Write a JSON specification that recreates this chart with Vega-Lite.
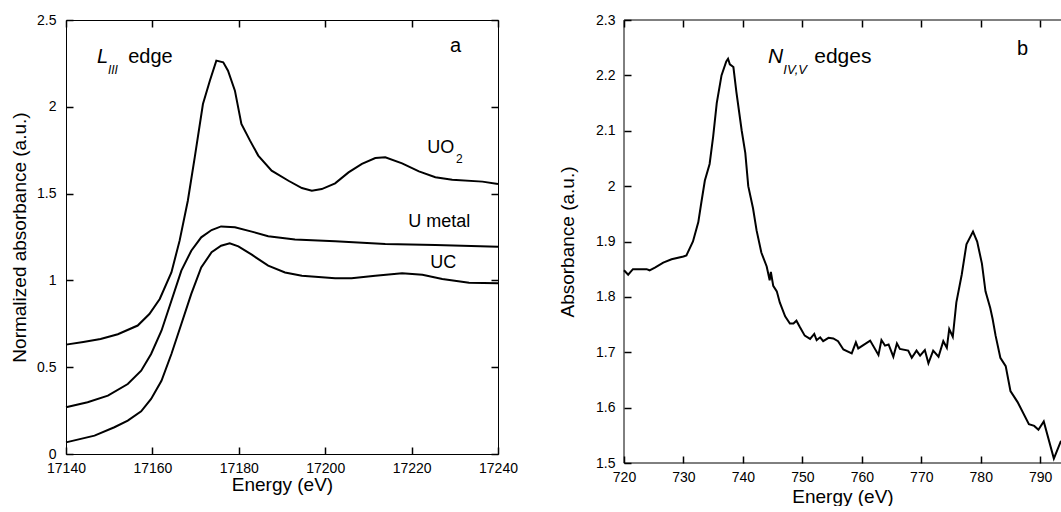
{
  "$schema": "https://vega.github.io/schema/vega-lite/v6.json",
  "padding": {"left": 10, "top": 12, "right": 0, "bottom": 0},
  "background": "white",
  "spacing": 40,
  "config": {
    "view": {"stroke": null},
    "font": "Liberation Sans",
    "axis": {
      "grid": false,
      "domain": false,
      "offset": -7,
      "ticks": true,
      "tickColor": "#000000",
      "tickOpacity": 1,
      "tickWidth": 1.5,
      "tickSize": 7,
      "labelFlush": false,
      "labelOverlap": false,
      "labelFont": "Liberation Sans",
      "labelFontSize": 14,
      "labelColor": "black",
      "titleFont": "Liberation Sans",
      "titleFontSize": 19,
      "titleFontWeight": "normal",
      "titleColor": "black"
    },
    "text": {"font": "Liberation Sans", "color": "black", "align": "left", "baseline": "alphabetic"}
  },
  "datasets": {
    "l3": [
      {"sample": "UO2", "E": 17140, "A": 0.63},
      {"sample": "UO2", "E": 17144, "A": 0.645},
      {"sample": "UO2", "E": 17148, "A": 0.662},
      {"sample": "UO2", "E": 17152, "A": 0.69},
      {"sample": "UO2", "E": 17156.6, "A": 0.74},
      {"sample": "UO2", "E": 17159.3, "A": 0.806},
      {"sample": "UO2", "E": 17161.7, "A": 0.893},
      {"sample": "UO2", "E": 17164.4, "A": 1.046},
      {"sample": "UO2", "E": 17166.3, "A": 1.229},
      {"sample": "UO2", "E": 17168.2, "A": 1.459},
      {"sample": "UO2", "E": 17169.8, "A": 1.709},
      {"sample": "UO2", "E": 17171.7, "A": 2.016},
      {"sample": "UO2", "E": 17173.3, "A": 2.15},
      {"sample": "UO2", "E": 17174.8, "A": 2.266},
      {"sample": "UO2", "E": 17176.4, "A": 2.256},
      {"sample": "UO2", "E": 17177.5, "A": 2.208},
      {"sample": "UO2", "E": 17179.1, "A": 2.093},
      {"sample": "UO2", "E": 17180.6, "A": 1.901},
      {"sample": "UO2", "E": 17182.6, "A": 1.805},
      {"sample": "UO2", "E": 17184.5, "A": 1.719},
      {"sample": "UO2", "E": 17187.6, "A": 1.632},
      {"sample": "UO2", "E": 17191.5, "A": 1.574},
      {"sample": "UO2", "E": 17194.6, "A": 1.532},
      {"sample": "UO2", "E": 17196.9, "A": 1.517},
      {"sample": "UO2", "E": 17199.2, "A": 1.526},
      {"sample": "UO2", "E": 17202.3, "A": 1.559},
      {"sample": "UO2", "E": 17205.4, "A": 1.622},
      {"sample": "UO2", "E": 17208.5, "A": 1.671},
      {"sample": "UO2", "E": 17211.6, "A": 1.705},
      {"sample": "UO2", "E": 17213.9, "A": 1.709},
      {"sample": "UO2", "E": 17217.8, "A": 1.674},
      {"sample": "UO2", "E": 17221.7, "A": 1.628},
      {"sample": "UO2", "E": 17225.5, "A": 1.594},
      {"sample": "UO2", "E": 17229.4, "A": 1.58},
      {"sample": "UO2", "E": 17236.4, "A": 1.569},
      {"sample": "UO2", "E": 17240, "A": 1.555},
      {"sample": "U metal", "E": 17140, "A": 0.269},
      {"sample": "U metal", "E": 17145, "A": 0.298},
      {"sample": "U metal", "E": 17149.7, "A": 0.336},
      {"sample": "U metal", "E": 17154.3, "A": 0.403},
      {"sample": "U metal", "E": 17157.4, "A": 0.48},
      {"sample": "U metal", "E": 17159.7, "A": 0.576},
      {"sample": "U metal", "E": 17162.1, "A": 0.71},
      {"sample": "U metal", "E": 17164.4, "A": 0.883},
      {"sample": "U metal", "E": 17166.7, "A": 1.056},
      {"sample": "U metal", "E": 17169, "A": 1.171},
      {"sample": "U metal", "E": 17171.3, "A": 1.248},
      {"sample": "U metal", "E": 17173.7, "A": 1.29},
      {"sample": "U metal", "E": 17175.9, "A": 1.311},
      {"sample": "U metal", "E": 17179.1, "A": 1.306},
      {"sample": "U metal", "E": 17183, "A": 1.281},
      {"sample": "U metal", "E": 17186.8, "A": 1.254},
      {"sample": "U metal", "E": 17193, "A": 1.235},
      {"sample": "U metal", "E": 17202.3, "A": 1.225},
      {"sample": "U metal", "E": 17213.9, "A": 1.21},
      {"sample": "U metal", "E": 17225.5, "A": 1.204},
      {"sample": "U metal", "E": 17240, "A": 1.194},
      {"sample": "UC", "E": 17140, "A": 0.067},
      {"sample": "UC", "E": 17146.6, "A": 0.106},
      {"sample": "UC", "E": 17151.2, "A": 0.154},
      {"sample": "UC", "E": 17154.3, "A": 0.192},
      {"sample": "UC", "E": 17157.4, "A": 0.246},
      {"sample": "UC", "E": 17159.7, "A": 0.317},
      {"sample": "UC", "E": 17162.1, "A": 0.422},
      {"sample": "UC", "E": 17164.4, "A": 0.576},
      {"sample": "UC", "E": 17166.7, "A": 0.749},
      {"sample": "UC", "E": 17169, "A": 0.922},
      {"sample": "UC", "E": 17171.3, "A": 1.075},
      {"sample": "UC", "E": 17173.7, "A": 1.162},
      {"sample": "UC", "E": 17175.9, "A": 1.2},
      {"sample": "UC", "E": 17177.9, "A": 1.214},
      {"sample": "UC", "E": 17179.9, "A": 1.196},
      {"sample": "UC", "E": 17183, "A": 1.148},
      {"sample": "UC", "E": 17186.8, "A": 1.085},
      {"sample": "UC", "E": 17190.7, "A": 1.046},
      {"sample": "UC", "E": 17194.6, "A": 1.027},
      {"sample": "UC", "E": 17202.3, "A": 1.012},
      {"sample": "UC", "E": 17206.1, "A": 1.012},
      {"sample": "UC", "E": 17211.6, "A": 1.027},
      {"sample": "UC", "E": 17217.8, "A": 1.041},
      {"sample": "UC", "E": 17222.5, "A": 1.033},
      {"sample": "UC", "E": 17227.1, "A": 1.008},
      {"sample": "UC", "E": 17233.3, "A": 0.987},
      {"sample": "UC", "E": 17240, "A": 0.983}
    ],
    "n45": [
      {"E": 720, "A": 1.848}, {"E": 720.7, "A": 1.84}, {"E": 721.5, "A": 1.85}, {"E": 723.8, "A": 1.85},
      {"E": 724.3, "A": 1.848}, {"E": 725.2, "A": 1.853}, {"E": 726.6, "A": 1.862}, {"E": 728, "A": 1.868},
      {"E": 730, "A": 1.873}, {"E": 730.5, "A": 1.875}, {"E": 731.6, "A": 1.9}, {"E": 732.5, "A": 1.935},
      {"E": 733, "A": 1.97}, {"E": 733.6, "A": 2.01}, {"E": 734.4, "A": 2.04}, {"E": 735, "A": 2.09},
      {"E": 735.6, "A": 2.15}, {"E": 736.4, "A": 2.2}, {"E": 737.2, "A": 2.225}, {"E": 737.5, "A": 2.23},
      {"E": 737.8, "A": 2.22}, {"E": 738.4, "A": 2.215}, {"E": 738.9, "A": 2.17}, {"E": 739.8, "A": 2.1},
      {"E": 740.4, "A": 2.06}, {"E": 740.9, "A": 2.0}, {"E": 741.7, "A": 1.96}, {"E": 742.3, "A": 1.92},
      {"E": 743.1, "A": 1.88}, {"E": 744, "A": 1.855}, {"E": 744.5, "A": 1.83}, {"E": 744.7, "A": 1.845},
      {"E": 745.1, "A": 1.82}, {"E": 745.7, "A": 1.81}, {"E": 746.2, "A": 1.79}, {"E": 747.1, "A": 1.765},
      {"E": 747.9, "A": 1.752}, {"E": 748.5, "A": 1.752}, {"E": 749.0, "A": 1.757}, {"E": 749.6, "A": 1.745},
      {"E": 750.4, "A": 1.73}, {"E": 751.3, "A": 1.724}, {"E": 752, "A": 1.733}, {"E": 752.4, "A": 1.722},
      {"E": 753, "A": 1.727}, {"E": 753.5, "A": 1.72}, {"E": 754.4, "A": 1.726}, {"E": 755.2, "A": 1.725},
      {"E": 756, "A": 1.72}, {"E": 756.9, "A": 1.705}, {"E": 758.3, "A": 1.698}, {"E": 759, "A": 1.718},
      {"E": 759.4, "A": 1.707}, {"E": 761.4, "A": 1.721}, {"E": 762.8, "A": 1.695}, {"E": 763.3, "A": 1.722},
      {"E": 763.9, "A": 1.712}, {"E": 764.5, "A": 1.714}, {"E": 765.3, "A": 1.692}, {"E": 765.9, "A": 1.716},
      {"E": 766.4, "A": 1.706}, {"E": 767.8, "A": 1.703}, {"E": 768.4, "A": 1.69}, {"E": 769.2, "A": 1.703},
      {"E": 769.8, "A": 1.694}, {"E": 770.6, "A": 1.704}, {"E": 771.2, "A": 1.68}, {"E": 772, "A": 1.703},
      {"E": 772.9, "A": 1.692}, {"E": 773.7, "A": 1.72}, {"E": 774.3, "A": 1.708}, {"E": 774.7, "A": 1.742},
      {"E": 775.3, "A": 1.728}, {"E": 775.9, "A": 1.79}, {"E": 776.8, "A": 1.84}, {"E": 777.6, "A": 1.895},
      {"E": 778.7, "A": 1.918}, {"E": 779.4, "A": 1.9}, {"E": 780.2, "A": 1.86}, {"E": 780.8, "A": 1.81},
      {"E": 781.6, "A": 1.78}, {"E": 782, "A": 1.76}, {"E": 782.5, "A": 1.73}, {"E": 783.3, "A": 1.69},
      {"E": 784.2, "A": 1.675}, {"E": 785, "A": 1.63}, {"E": 786.2, "A": 1.61}, {"E": 788.1, "A": 1.57},
      {"E": 789, "A": 1.567}, {"E": 789.7, "A": 1.56}, {"E": 790.6, "A": 1.575}, {"E": 792.3, "A": 1.508},
      {"E": 793.5, "A": 1.54}
    ]
  },
  "hconcat": [
    {
      "width": 432,
      "height": 434,
      "view": {"stroke": "black", "strokeWidth": 1},
      "resolve": {"axis": {"x": "independent", "y": "independent"}},
      "layer": [
        {
          "data": {"name": "l3"},
          "mark": {"type": "line", "color": "black", "strokeWidth": 2},
          "encoding": {
            "x": {"field": "E", "type": "quantitative",
                  "scale": {"domain": [17140, 17240], "nice": false, "zero": false},
                  "axis": {"orient": "bottom", "title": "Energy (eV)", "values": [17140, 17160, 17180, 17200, 17220, 17240], "format": "d", "labelPadding": 7, "titlePadding": 0}},
            "y": {"field": "A", "type": "quantitative",
                  "scale": {"domain": [0, 2.5], "nice": false, "zero": false},
                  "axis": {"orient": "left", "title": "Normalized absorbance (a.u.)", "values": [0, 0.5, 1, 1.5, 2, 2.5], "format": "~g", "labelPadding": 10, "titlePadding": 7}},
            "detail": {"field": "sample"}
          }
        },
        {
          "data": {"values": [{}]},
          "mark": {"type": "text", "text": "a", "fontSize": 20},
          "encoding": {
            "x": {"datum": 17228.9, "type": "quantitative",
                  "axis": {"orient": "top", "labels": false, "title": null, "values": [17140, 17160, 17180, 17200, 17220, 17240]}},
            "y": {"datum": 2.316, "type": "quantitative",
                  "axis": {"orient": "right", "labels": false, "title": null, "values": [0, 0.5, 1, 1.5, 2, 2.5]}}
          }
        },
        {
          "data": {"values": [{}]},
          "mark": {"type": "text", "text": "L", "fontSize": 20, "fontStyle": "italic"},
          "encoding": {"x": {"datum": 17147.2, "type": "quantitative", "axis": null}, "y": {"datum": 2.252, "type": "quantitative", "axis": null}}
        },
        {
          "data": {"values": [{}]},
          "mark": {"type": "text", "text": "III", "fontSize": 12, "fontStyle": "italic"},
          "encoding": {"x": {"datum": 17149.7, "type": "quantitative", "axis": null}, "y": {"datum": 2.19, "type": "quantitative", "axis": null}}
        },
        {
          "data": {"values": [{}]},
          "mark": {"type": "text", "text": "edge", "fontSize": 20},
          "encoding": {"x": {"datum": 17154.4, "type": "quantitative", "axis": null}, "y": {"datum": 2.252, "type": "quantitative", "axis": null}}
        },
        {
          "data": {"values": [{}]},
          "mark": {"type": "text", "text": "UO", "fontSize": 18},
          "encoding": {"x": {"datum": 17223.6, "type": "quantitative", "axis": null}, "y": {"datum": 1.734, "type": "quantitative", "axis": null}}
        },
        {
          "data": {"values": [{}]},
          "mark": {"type": "text", "text": "2", "fontSize": 12},
          "encoding": {"x": {"datum": 17230.3, "type": "quantitative", "axis": null}, "y": {"datum": 1.676, "type": "quantitative", "axis": null}}
        },
        {
          "data": {"values": [{}]},
          "mark": {"type": "text", "text": "U metal", "fontSize": 18},
          "encoding": {"x": {"datum": 17219.2, "type": "quantitative", "axis": null}, "y": {"datum": 1.308, "type": "quantitative", "axis": null}}
        },
        {
          "data": {"values": [{}]},
          "mark": {"type": "text", "text": "UC", "fontSize": 18},
          "encoding": {"x": {"datum": 17224.3, "type": "quantitative", "axis": null}, "y": {"datum": 1.071, "type": "quantitative", "axis": null}}
        }
      ]
    },
    {
      "width": 437,
      "height": 443,
      "view": {"stroke": null},
      "resolve": {"axis": {"x": "independent", "y": "independent"}},
      "layer": [
        {
          "data": {"name": "n45"},
          "mark": {"type": "line", "color": "black", "strokeWidth": 2},
          "encoding": {
            "x": {"field": "E", "type": "quantitative",
                  "scale": {"domain": [720, 793.5], "nice": false, "zero": false},
                  "axis": {"orient": "bottom", "title": "Energy (eV)", "values": [720, 730, 740, 750, 760, 770, 780, 790], "format": "d", "labelPadding": 7, "titlePadding": 3}},
            "y": {"field": "A", "type": "quantitative",
                  "scale": {"domain": [1.5, 2.3], "nice": false, "zero": false},
                  "axis": {"orient": "left", "title": "Absorbance (a.u.)", "values": [1.5, 1.6, 1.7, 1.8, 1.9, 2, 2.1, 2.2, 2.3], "format": "~g", "labelPadding": 9, "titlePadding": 18}}
          }
        },
        {
          "data": {"values": [{}]},
          "mark": {"type": "text", "text": "b", "fontSize": 20},
          "encoding": {
            "x": {"datum": 786.1, "type": "quantitative",
                  "axis": {"orient": "top", "labels": false, "title": null, "values": [720, 730, 740, 750, 760, 770, 780, 790]}},
            "y": {"datum": 2.237, "type": "quantitative", "axis": null}
          }
        },
        {
          "data": {"values": [{}]},
          "mark": {"type": "text", "text": "N", "fontSize": 21, "fontStyle": "italic"},
          "encoding": {"x": {"datum": 744.2, "type": "quantitative", "axis": null}, "y": {"datum": 2.222, "type": "quantitative", "axis": null}}
        },
        {
          "data": {"values": [{}]},
          "mark": {"type": "text", "text": "IV,V", "fontSize": 13, "fontStyle": "italic"},
          "encoding": {"x": {"datum": 746.8, "type": "quantitative", "axis": null}, "y": {"datum": 2.202, "type": "quantitative", "axis": null}}
        },
        {
          "data": {"values": [{}]},
          "mark": {"type": "text", "text": "edges", "fontSize": 21},
          "encoding": {"x": {"datum": 752.0, "type": "quantitative", "axis": null}, "y": {"datum": 2.222, "type": "quantitative", "axis": null}}
        },
        {
          "data": {"values": [{}]},
          "mark": {"type": "rule", "color": "black", "strokeWidth": 1},
          "encoding": {"x": {"datum": 720, "type": "quantitative", "axis": null}}
        },
        {
          "data": {"values": [{}]},
          "mark": {"type": "rule", "color": "black", "strokeWidth": 1},
          "encoding": {"y": {"datum": 1.5, "type": "quantitative", "axis": null}}
        },
        {
          "data": {"values": [{}]},
          "mark": {"type": "rule", "color": "black", "strokeWidth": 1},
          "encoding": {"y": {"datum": 2.3, "type": "quantitative", "axis": null}}
        }
      ]
    }
  ]
}
